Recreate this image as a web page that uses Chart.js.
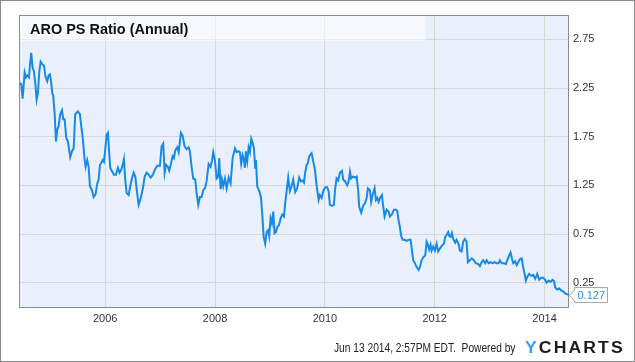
<!DOCTYPE html>
<html>
<head>
<meta charset="utf-8">
<script src="https://cdn.jsdelivr.net/npm/chart.js@4.4.1/dist/chart.umd.min.js"></script>
<style>
  html, body { margin: 0; padding: 0; background: #fff; }
  #wrap { position: relative; width: 635px; height: 362px; overflow: hidden; }
  #titleBox { position: absolute; left: 20px; top: 16px; width: 406px; height: 25px; background: rgba(255,255,255,0.5); }
  #title { position: absolute; left: 30px; top: 20.5px; font: bold 15px "Liberation Sans", Arial, sans-serif; line-height: 1; color: #111; white-space: nowrap; transform: scaleX(0.965); transform-origin: left top; }
  #stamp { position: absolute; left: 334px; top: 341.8px; font: 12px "Liberation Sans", Arial, sans-serif; line-height: 1; color: #222; white-space: nowrap; transform: scaleX(0.85); transform-origin: left top; }
  #logo { position: absolute; left: 525px; top: 339.5px; font: bold 16px "Liberation Sans", Arial, sans-serif; line-height: 1; letter-spacing: 1.9px; white-space: nowrap; transform: scaleX(1.1); transform-origin: left top; }
  #logo .y { color: #3a9fe8; }
  #logo .c { color: #1c1c1c; }
</style>
</head>
<body>
<div id="wrap">
  <canvas id="psChart" width="635" height="362"></canvas>
  <div id="titleBox"></div>
  <div id="title">ARO PS Ratio (Annual)</div>
  <div id="stamp">Jun 13 2014, 2:57PM EDT.&nbsp; Powered by</div>
  <div id="logo"><span class="y">Y</span><span class="c">CHARTS</span></div>
</div>
<script>
// dates as decimal years
const dates = [
  2004.442,2004.471,2004.496,2004.533,2004.556,2004.580,2004.611,2004.629,2004.653,2004.678,
  2004.702,2004.726,2004.751,2004.775,2004.798,2004.824,2004.860,2004.884,2004.915,2004.944,
  2004.970,2004.993,2005.017,2005.035,2005.053,2005.079,2005.103,2005.126,2005.152,2005.181,
  2005.212,2005.236,2005.261,2005.290,2005.321,2005.363,2005.394,2005.425,2005.454,2005.503,
  2005.540,2005.563,2005.594,2005.625,2005.643,2005.672,2005.698,2005.722,2005.758,2005.789,
  2005.825,2005.855,2005.880,2005.904,2005.927,2005.953,2005.977,2006.000,2006.026,2006.049,
  2006.068,2006.091,2006.128,2006.159,2006.195,2006.231,2006.262,2006.291,2006.310,2006.341,
  2006.364,2006.390,2006.426,2006.455,2006.486,2006.518,2006.547,2006.577,2006.608,2006.637,
  2006.668,2006.692,2006.718,2006.754,2006.790,2006.827,2006.869,2006.911,2006.947,
  2006.972,2006.996,2007.027,2007.056,2007.082,2007.105,2007.142,2007.165,2007.196,2007.227,
  2007.251,2007.275,2007.311,2007.337,2007.360,2007.378,2007.409,2007.446,2007.482,2007.519,
  2007.542,2007.573,2007.602,2007.639,2007.664,2007.694,2007.725,2007.755,2007.785,2007.816,
  2007.846,2007.883,2007.919,2007.943,2007.967,2007.997,2008.028,2008.058,2008.076,2008.101,
  2008.125,2008.149,2008.180,2008.211,2008.247,2008.283,2008.320,2008.362,2008.393,2008.429,
  2008.453,2008.476,2008.502,2008.526,2008.544,2008.562,2008.586,2008.611,2008.635,2008.659,
  2008.684,2008.708,2008.731,2008.744,2008.768,2008.804,2008.835,2008.859,2008.885,2008.913,
  2008.939,2008.968,2008.986,2009.011,2009.035,2009.059,2009.084,2009.108,2009.132,2009.163,
  2009.194,2009.223,2009.254,2009.278,2009.303,2009.332,2009.363,
  2009.394,2009.423,2009.460,2009.496,2009.532,2009.563,2009.594,2009.618,2009.641,2009.667,
  2009.691,2009.715,2009.758,2009.787,2009.818,2009.849,2009.886,2009.909,2009.940,2009.969,
  2010.006,2010.042,2010.068,2010.091,2010.128,2010.164,2010.188,2010.213,2010.242,2010.273,
  2010.310,2010.333,2010.370,2010.406,2010.432,2010.456,2010.479,2010.516,2010.552,2010.578,
  2010.607,2010.625,2010.661,2010.698,2010.734,2010.760,2010.783,2010.820,2010.843,2010.869,
  2010.905,2010.929,2010.952,2010.978,2011.002,2011.038,2011.062,2011.087,2011.124,2011.160,
  2011.184,2011.220,2011.257,2011.293,2011.317,2011.342,2011.366,2011.389,2011.415,2011.451,
  2011.488,2011.524,2011.561,2011.585,2011.608,2011.639,2011.670,2011.707,2011.730,2011.761,
  2011.790,2011.827,2011.852,2011.876,2011.899,2011.925,
  2011.943,2011.972,2012.003,2012.034,2012.063,2012.094,2012.130,2012.167,2012.191,2012.216,
  2012.245,2012.264,2012.289,2012.313,2012.337,2012.373,2012.398,2012.434,2012.458,2012.489,
  2012.518,2012.549,2012.580,2012.604,2012.640,2012.677,2012.713,2012.749,2012.791,2012.822,
  2012.853,2012.882,2012.919,2012.944,2012.980,2013.017,2013.053,2013.090,2013.126,2013.163,
  2013.187,2013.223,2013.259,2013.296,2013.320,2013.356,2013.381,2013.405,2013.429,2013.465,
  2013.491,2013.520,2013.551,2013.582,2013.611,2013.636,2013.660,2013.684,2013.720,2013.756,
  2013.793,2013.829,2013.866,2013.902,2013.938,2013.975,2014.011,2014.037,2014.073,2014.110,
  2014.146,2014.170,2014.194,2014.230,2014.267,2014.303,2014.340,2014.376,2014.413,2014.445
];
const psRatio = [
  2.30,2.29,2.14,2.41,2.36,2.38,2.36,2.48,2.61,2.46,
  2.42,2.30,2.13,2.20,2.41,2.52,2.49,2.48,2.36,2.32,
  2.38,2.39,2.30,2.20,2.17,1.99,1.70,1.82,1.86,1.98,
  2.02,1.93,1.93,1.74,1.70,1.54,1.60,1.63,1.98,2.01,
  1.98,1.86,1.72,1.51,1.44,1.51,1.44,1.24,1.20,1.13,
  1.16,1.27,1.31,1.46,1.48,1.51,1.49,1.62,1.77,1.79,
  1.62,1.43,1.39,1.36,1.36,1.43,1.38,1.41,1.44,1.52,
  1.31,1.17,1.15,1.24,1.32,1.38,1.34,1.19,1.05,1.10,
  1.17,1.24,1.34,1.38,1.36,1.33,1.36,1.42,1.45,
  1.45,1.45,1.65,1.68,1.38,1.46,1.44,1.40,1.47,1.55,
  1.53,1.61,1.64,1.59,1.70,1.79,1.76,1.65,1.62,1.64,
  1.60,1.44,1.32,1.31,1.17,1.05,1.13,1.13,1.20,1.22,
  1.29,1.47,1.44,1.50,1.59,1.51,1.32,1.34,1.53,1.21,
  1.31,1.24,1.32,1.22,1.33,1.27,1.53,1.63,1.59,1.60,
  1.59,1.47,1.56,1.51,1.43,1.60,1.50,1.64,1.59,1.73,
  1.69,1.63,1.43,1.51,1.24,1.19,1.13,0.96,0.72,0.65,
  0.77,0.79,0.73,0.91,0.86,0.98,0.76,0.77,0.82,0.84,
  0.91,0.95,0.93,1.07,1.19,1.33,1.19,
  1.24,1.31,1.18,1.22,1.33,1.29,1.30,1.28,1.38,1.46,
  1.48,1.55,1.58,1.50,1.41,1.25,1.10,1.15,1.12,1.19,
  1.23,1.23,1.19,1.05,1.04,1.05,1.22,1.32,1.30,1.38,
  1.40,1.31,1.29,1.25,1.29,1.39,1.32,1.34,1.33,1.34,
  1.19,1.03,0.97,1.04,1.07,1.12,1.22,1.20,1.08,1.15,
  1.22,1.10,1.12,1.08,1.12,1.15,1.03,0.93,1.00,0.98,
  0.93,0.95,1.00,1.00,0.99,0.89,0.82,0.73,0.69,0.69,
  0.68,0.69,0.69,0.58,0.48,0.45,0.41,0.38,0.41,0.48,
  0.51,0.53,0.67,0.64,0.59,0.64,
  0.58,0.62,0.58,0.65,0.57,0.60,0.63,0.65,0.72,0.74,
  0.77,0.73,0.72,0.76,0.70,0.66,0.69,0.65,0.58,0.57,
  0.67,0.70,0.67,0.46,0.48,0.50,0.48,0.45,0.44,0.42,
  0.46,0.48,0.45,0.48,0.45,0.46,0.45,0.46,0.45,0.45,
  0.48,0.45,0.45,0.44,0.48,0.53,0.56,0.50,0.45,0.47,
  0.43,0.46,0.49,0.50,0.41,0.34,0.27,0.31,0.34,0.32,
  0.33,0.29,0.34,0.28,0.30,0.30,0.28,0.25,0.27,0.26,
  0.28,0.27,0.20,0.18,0.19,0.17,0.16,0.14,0.13,0.127
];
const xTicks = [2006, 2008, 2010, 2012, 2014];
const yTicks = [0.25, 0.75, 1.25, 1.75, 2.25, 2.75];

const FONT = '"Liberation Sans", Arial, sans-serif';
const lineColor = '#168ae6';
const gridColor = '#d6d6d6';

// plot background, frame, last value tag, outer border
const framePlugin = {
  id: 'frame',
  beforeDraw(chart) {
    const {ctx, chartArea: a} = chart;
    ctx.save();
    ctx.fillStyle = '#fff';
    ctx.fillRect(0, 0, chart.width, chart.height);
    ctx.fillStyle = '#eaf0fb';
    ctx.fillRect(a.left, a.top, a.right - a.left, a.bottom - a.top);
    ctx.restore();
  },
  beforeDatasetsDraw(chart) {
    const {ctx, chartArea: a} = chart;
    ctx.save();
    ctx.strokeStyle = '#8c8c8c';
    ctx.lineWidth = 1;
    ctx.strokeRect(a.left + 0.5, a.top + 0.5, a.right - a.left - 1, a.bottom - a.top);
    ctx.restore();
  },
  afterDraw(chart) {
    const {ctx} = chart;
    const last = psRatio.length - 1;
    const px = chart.scales.x.getPixelForValue(dates[last]);
    const py = Math.round(chart.scales.y.getPixelForValue(psRatio[last]));
    const bx = px + 5.5, top = py - 7.5, bot = py + 7.5, right = bx + 33;
    ctx.save();
    ctx.beginPath();
    ctx.moveTo(px + 0.5, py + 0.5);
    ctx.lineTo(bx, py - 5);
    ctx.lineTo(bx, top);
    ctx.lineTo(right, top);
    ctx.lineTo(right, bot);
    ctx.lineTo(bx, bot);
    ctx.lineTo(bx, py + 6);
    ctx.closePath();
    ctx.fillStyle = '#fff';
    ctx.fill();
    ctx.strokeStyle = '#a8a8a8';
    ctx.lineWidth = 1;
    ctx.stroke();
    ctx.fillStyle = '#2a8ee6';
    ctx.font = '11px ' + FONT;
    ctx.textBaseline = 'middle';
    ctx.fillText(String(psRatio[last]), bx + 3, py + 1);
    ctx.strokeStyle = '#8a8a8a';
    ctx.strokeRect(0.5, 0.5, chart.width - 1, chart.height - 1);
    ctx.restore();
  }
};

new Chart(document.getElementById('psChart'), {
  type: 'line',
  data: {
    datasets: [{
      data: dates.map((d, i) => ({x: d, y: psRatio[i]})),
      borderColor: lineColor,
      borderWidth: 2,
      pointRadius: 0,
      tension: 0,
      fill: false
    }]
  },
  options: {
    responsive: false,
    animation: false,
    devicePixelRatio: 1,
    layout: {padding: {left: 19, top: 15, right: 0, bottom: 0}},
    plugins: {legend: {display: false}, tooltip: {enabled: false}},
    scales: {
      x: {
        type: 'linear',
        min: 2004.43,
        max: 2014.445,
        afterBuildTicks: s => { s.ticks = xTicks.map(v => ({value: v})); },
        afterFit: s => { s.height = 55; },
        grid: {color: gridColor, drawTicks: false},
        border: {display: false},
        ticks: {padding: 5, color: '#333', font: {family: FONT, size: 11}, maxRotation: 0, autoSkip: false, callback: v => String(v)}
      },
      y: {
        position: 'right',
        min: 0,
        max: 3,
        afterBuildTicks: s => { s.ticks = yTicks.map(v => ({value: v})); },
        afterFit: s => { s.width = 66; },
        grid: {color: gridColor, drawTicks: false},
        border: {display: false},
        ticks: {padding: 4, color: '#333', font: {family: FONT, size: 11}, callback: v => v.toFixed(2)}
      }
    }
  },
  plugins: [framePlugin]
});
</script>
</body>
</html>
